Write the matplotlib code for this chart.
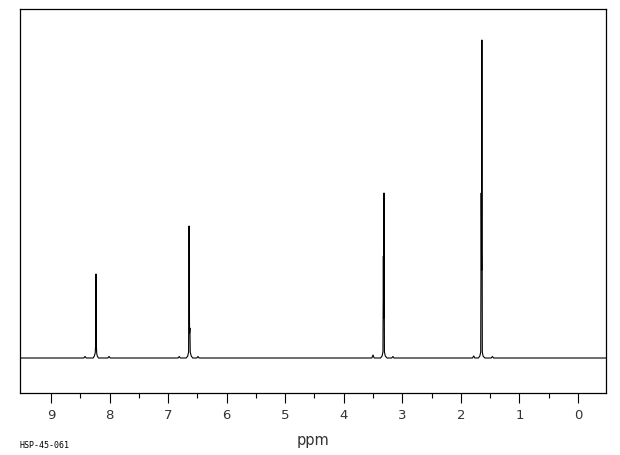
import matplotlib
matplotlib.use("Agg")
import matplotlib.pyplot as plt

# trace points (ppm, height above baseline in px units)
peak1_ppm = [8.44, 8.42, 8.40, 8.28, 8.26, 8.245, 8.238, 8.232, 8.226, 8.22, 8.21, 8.19, 8.03, 8.01, 7.99]
peak1_int = [0, 1.5, 0, 0, 2, 5, 13, 84, 13, 5, 2, 0, 0, 1.5, 0]

peak2_ppm = [6.83, 6.81, 6.79, 6.69, 6.665, 6.65, 6.642, 6.634, 6.628, 6.622, 6.605, 6.58, 6.51, 6.49, 6.47]
peak2_int = [0, 1.5, 0, 0, 2, 6, 132, 25, 30, 6, 2, 0, 0, 1.5, 0]

peak3_ppm = [3.52, 3.50, 3.48, 3.37, 3.345, 3.33, 3.323, 3.318, 3.312, 3.305, 3.29, 3.26, 3.18, 3.16, 3.14]
peak3_int = [0, 3, 0, 0, 2, 6, 102, 40, 165, 6, 2, 0, 0, 1.5, 0]

peak4_ppm = [1.80, 1.78, 1.76, 1.70, 1.675, 1.66, 1.652, 1.646, 1.640, 1.633, 1.62, 1.59, 1.48, 1.46, 1.44]
peak4_int = [0, 2, 0, 0, 2, 6, 165, 88, 318, 6, 2, 0, 0, 1.5, 0]

tick_values = [9, 8, 7, 6, 5, 4, 3, 2, 1, 0]
minor_values = [8.5, 7.5, 6.5, 5.5, 4.5, 3.5, 2.5, 1.5, 0.5]

ppm = [9.53] + peak1_ppm + peak2_ppm + peak3_ppm + peak4_ppm + [-0.48]
intensity = [0] + peak1_int + peak2_int + peak3_int + peak4_int + [0]

fig = plt.figure(figsize=(6.2, 4.55), dpi=100)
ax = fig.add_axes([20 / 620, 62 / 455, 586 / 620, 384 / 455])

ax.plot(ppm, intensity, color="black", linewidth=0.8)

ax.set_xlim(9.53, -0.48)
ax.set_ylim(-35, 349)
ax.set_yticks([])
ax.set_xticks(tick_values)
ax.set_xticklabels([str(t) for t in tick_values])
ax.set_xticks(minor_values, minor=True)
ax.tick_params(axis="x", which="major", length=7.2, width=0.8, pad=4, labelsize=9.5, labelcolor="#333333")
ax.tick_params(axis="x", which="minor", length=3.6, width=0.8)
for s in ax.spines.values():
    s.set_linewidth(0.9)

ax.set_xlabel("ppm", fontsize=10.5, labelpad=8, color="#333333")
fig.text(20 / 620, 1 - 445 / 455, "HSP-45-061", fontsize=6, family="DejaVu Sans Mono",
         va="center", ha="left")

fig.savefig("out.png", dpi=100)
